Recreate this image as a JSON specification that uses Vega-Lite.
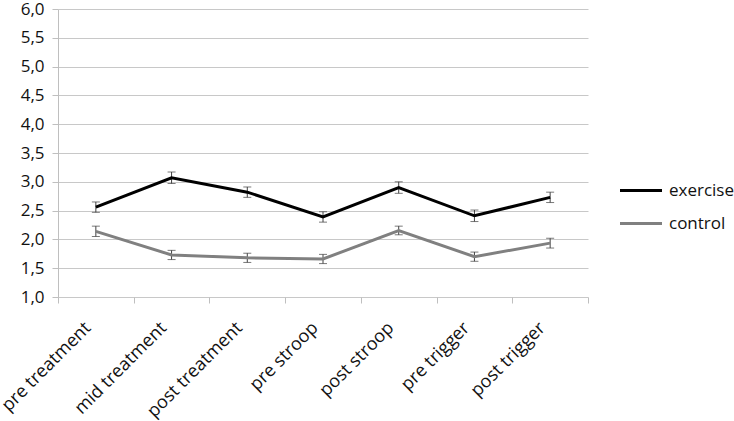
{
  "$schema": "https://vega.github.io/schema/vega-lite/v6.json",
  "width": 530,
  "height": 288,
  "autosize": {"type": "none"},
  "padding": {"left": 58, "top": 9, "right": 146, "bottom": 124},
  "background": "white",
  "config": {
    "font": "Open Sans",
    "view": {"stroke": null},
    "axis": {"labelFont": "Open Sans", "labelFontSize": 17, "labelColor": "#111111", "domainColor": "#bfbfbf", "tickColor": "#bfbfbf", "gridColor": "#c8c8c8", "title": null}
  },
  "data": {
    "values": [
      {"cond": "pre treatment", "group": "exercise", "mean": 2.56, "lo": 2.47, "hi": 2.65},
      {"cond": "mid treatment", "group": "exercise", "mean": 3.07, "lo": 2.97, "hi": 3.17},
      {"cond": "post treatment", "group": "exercise", "mean": 2.82, "lo": 2.73, "hi": 2.91},
      {"cond": "pre stroop", "group": "exercise", "mean": 2.39, "lo": 2.30, "hi": 2.48},
      {"cond": "post stroop", "group": "exercise", "mean": 2.90, "lo": 2.80, "hi": 3.00},
      {"cond": "pre trigger", "group": "exercise", "mean": 2.41, "lo": 2.31, "hi": 2.51},
      {"cond": "post trigger", "group": "exercise", "mean": 2.73, "lo": 2.64, "hi": 2.82},
      {"cond": "pre treatment", "group": "control", "mean": 2.14, "lo": 2.05, "hi": 2.23},
      {"cond": "mid treatment", "group": "control", "mean": 1.73, "lo": 1.65, "hi": 1.81},
      {"cond": "post treatment", "group": "control", "mean": 1.68, "lo": 1.60, "hi": 1.76},
      {"cond": "pre stroop", "group": "control", "mean": 1.66, "lo": 1.58, "hi": 1.74},
      {"cond": "post stroop", "group": "control", "mean": 2.155, "lo": 2.08, "hi": 2.23},
      {"cond": "pre trigger", "group": "control", "mean": 1.70, "lo": 1.62, "hi": 1.78},
      {"cond": "post trigger", "group": "control", "mean": 1.935, "lo": 1.85, "hi": 2.02}
    ]
  },
  "encoding": {
    "x": {
      "field": "cond", "type": "nominal", "bandPosition": 0.5,
      "sort": ["pre treatment", "mid treatment", "post treatment", "pre stroop", "post stroop", "pre trigger", "post trigger"],
      "scale": {"type": "band", "paddingInner": 0, "paddingOuter": 0},
      "axis": {"labelAngle": -45, "labelAlign": "right", "labelBaseline": "middle", "labelFontSize": 18, "labelOverlap": false, "tickBand": "extent", "tickSize": 6, "labelPadding": 22, "labelOffset": -8, "domain": false, "grid": false}
    }
  },
  "layer": [
    {
      "mark": {"type": "rule", "color": "#404040", "strokeWidth": 1},
      "encoding": {
        "y": {
          "field": "lo", "type": "quantitative",
          "scale": {"domain": [1, 6], "nice": false, "zero": false},
          "axis": {"values": [1, 1.5, 2, 2.5, 3, 3.5, 4, 4.5, 5, 5.5, 6], "format": ".1f", "labelExpr": "replace(datum.label, '.', ',')", "labelOverlap": false, "labelFlush": false, "tickSize": 6, "labelPadding": 8, "grid": true, "domain": true}
        },
        "y2": {"field": "hi"}
      }
    },
    {
      "mark": {"type": "tick", "color": "#404040", "size": 8, "thickness": 1},
      "encoding": {
        "y": {
          "field": "lo", "type": "quantitative",
          "axis": {"values": [1, 1.5, 2, 2.5, 3, 3.5, 4, 4.5, 5, 5.5, 6], "format": ".1f", "labelExpr": "replace(datum.label, '.', ',')", "labelOverlap": false, "labelFlush": false, "tickSize": 6, "labelPadding": 8, "grid": true, "domain": true}
        }
      }
    },
    {
      "mark": {"type": "tick", "color": "#404040", "size": 8, "thickness": 1},
      "encoding": {
        "y": {
          "field": "hi", "type": "quantitative",
          "axis": {"values": [1, 1.5, 2, 2.5, 3, 3.5, 4, 4.5, 5, 5.5, 6], "format": ".1f", "labelExpr": "replace(datum.label, '.', ',')", "labelOverlap": false, "labelFlush": false, "tickSize": 6, "labelPadding": 8, "grid": true, "domain": true}
        }
      }
    },
    {
      "mark": {"type": "line", "strokeWidth": 3},
      "encoding": {
        "y": {
          "field": "mean", "type": "quantitative",
          "axis": {"values": [1, 1.5, 2, 2.5, 3, 3.5, 4, 4.5, 5, 5.5, 6], "format": ".1f", "labelExpr": "replace(datum.label, '.', ',')", "labelOverlap": false, "labelFlush": false, "tickSize": 6, "labelPadding": 8, "grid": true, "domain": true}
        },
        "color": {
          "field": "group", "type": "nominal",
          "sort": ["exercise", "control"],
          "scale": {"domain": ["exercise", "control"], "range": ["#000000", "#808080"]},
          "legend": {
            "title": null, "orient": "none", "legendX": 571, "legendY": 169.5, "padding": 0,
            "symbolType": "M-2,0H2", "symbolSize": 441, "symbolStrokeWidth": 3,
            "labelFont": "Open Sans", "labelFontSize": 17, "labelColor": "#111111", "labelOffset": 16, "rowPadding": 13
          }
        }
      }
    }
  ]
}
